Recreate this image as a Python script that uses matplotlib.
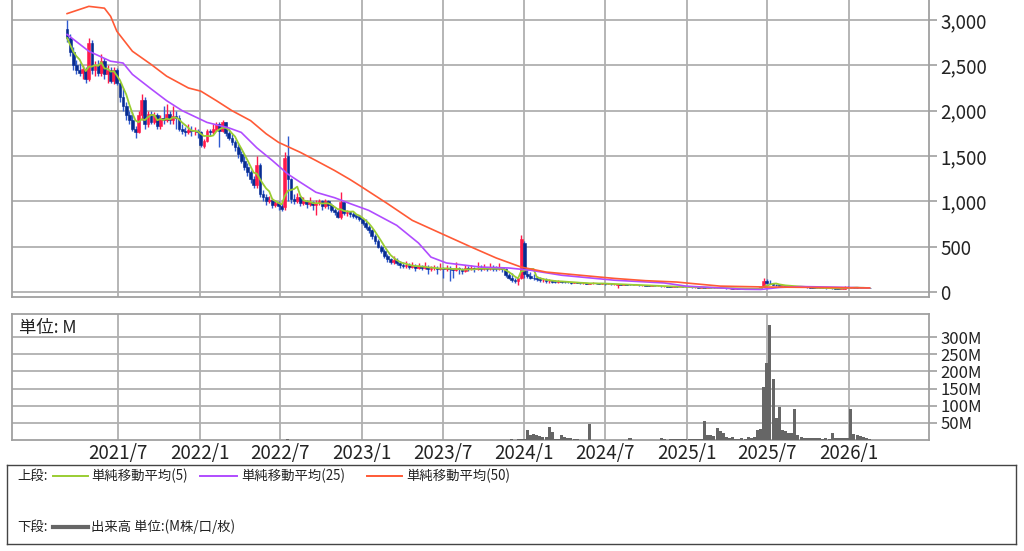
import matplotlib
matplotlib.use("Agg")
from matplotlib import pyplot as plt
import matplotlib.dates as mdates
from matplotlib.ticker import FuncFormatter
import numpy as np
import pandas as pd

plt.rcParams['font.family'] = ['Noto Sans CJK JP', 'DejaVu Sans']

# weekly candles, first week starting 2021-03-08
start_week = '2021-03-08'

opens = [
    2900, 2800, 2650, 2500, 2450, 2420, 2460, 2350, 2750, 2450,
    2500, 2420, 2550, 2400, 2450, 2330, 2450, 2300, 2150, 2050,
    1950, 1900, 1800, 1760, 1950, 2120, 1850, 1960, 1880, 1950,
    1830, 1920, 1900, 1960, 1900, 1940, 1920, 1800, 1780, 1760,
    1790, 1770, 1780, 1760, 1610, 1670, 1780, 1760, 1800, 1850,
    1780, 1870, 1750, 1700, 1650, 1600, 1520, 1450, 1380, 1320,
    1250, 1180, 1400, 1080, 1050, 1000, 1020, 960, 980, 950,
    940, 1500, 1250, 1030, 1000, 1050, 980, 1000, 970, 990,
    960, 980, 1000, 950, 1000, 960, 900, 880, 830, 990,
    870, 880, 860, 840, 830, 800, 760, 720, 680, 620,
    560, 500, 450, 400, 360, 330, 350, 320, 300, 290,
    300, 280, 290, 270, 290, 270, 280, 250, 260, 270,
    255, 260, 250, 270, 250, 240, 260, 250, 230, 260,
    250, 260, 250, 270, 255, 260, 250, 265, 255, 250,
    260, 250, 190, 160, 130, 120, 150, 540, 200, 180,
    160, 150, 140, 130, 135, 120, 125, 115, 110, 120,
    115, 110, 105, 100, 110, 100, 95, 100, 90, 95,
    100, 95, 90, 92, 88, 90, 85, 80, 85, 80,
    82, 80, 78, 75, 78, 72, 75, 70, 68, 70,
    65, 66, 62, 65, 60, 58, 60, 55, 57, 55,
    52, 54, 50, 52, 48, 50, 46, 48, 45, 44,
    46, 42, 44, 40, 42, 38, 40, 36, 38, 35,
    34, 36, 33, 35, 60, 120, 100, 95, 80, 75,
    70, 72, 68, 65, 62, 60, 58, 55, 52, 50,
    48, 46, 45, 44, 42, 40, 42, 40, 38, 36,
    38, 60, 45, 50, 48, 46, 44, 45, 43,
]
highs = [
    3000, 2850, 2700, 2560, 2520, 2500, 2480, 2800, 2780, 2550,
    2560, 2620, 2580, 2500, 2480, 2480, 2470, 2320, 2250, 2100,
    2000, 1980, 1830, 2000, 2180, 2150, 2000, 2000, 1980, 1970,
    1950, 2050, 2070, 2000, 2050, 2000, 1950, 1850, 1820, 1850,
    1830, 1820, 1800, 1780, 1690, 1800, 1800, 1850, 1880, 1870,
    1900, 1880, 1800, 1740, 1680, 1640, 1560, 1500, 1420, 1350,
    1280, 1500, 1420, 1120, 1080, 1060, 1040, 1020, 1000, 980,
    1540, 1720, 1260, 1080, 1090, 1060, 1050, 1020, 1050, 1000,
    1010, 1030, 1010, 1030, 1010, 980, 930, 900, 1100, 1000,
    900, 890, 880, 860, 850, 810, 800, 740, 700, 640,
    580, 520, 470, 420, 380, 400, 370, 340, 330, 340,
    320, 330, 310, 320, 300, 330, 300, 290, 300, 290,
    320, 280, 300, 290, 270, 330, 280, 270, 300, 290,
    300, 280, 330, 300, 310, 280, 320, 300, 290, 320,
    280, 260, 210, 210, 150, 160, 630, 560, 260, 220,
    200, 180, 170, 160, 150, 140, 130, 130, 130, 125,
    120, 115, 110, 115, 112, 105, 105, 102, 100, 105,
    102, 98, 95, 95, 95, 92, 90, 90, 88, 84,
    84, 82, 80, 80, 79, 77, 76, 72, 72, 71,
    68, 67, 67, 66, 62, 62, 61, 59, 58, 56,
    56, 55, 54, 53, 52, 55, 50, 49, 47, 48,
    47, 46, 45, 44, 43, 42, 41, 40, 39, 36,
    38, 37, 38, 70, 150, 140, 130, 100, 90, 85,
    80, 74, 70, 68, 70, 62, 60, 57, 54, 52,
    50, 48, 46, 45, 44, 44, 43, 42, 40, 40,
    70, 62, 55, 52, 50, 48, 47, 46, 44,
]
lows = [
    2760, 2600, 2450, 2400, 2380, 2350, 2300, 2330, 2400, 2380,
    2380, 2380, 2350, 2300, 2300, 2290, 2280, 2100, 2000, 1900,
    1850, 1780, 1700, 1750, 1900, 1800, 1820, 1850, 1850, 1800,
    1800, 1850, 1880, 1850, 1850, 1800, 1780, 1740, 1720, 1740,
    1720, 1730, 1700, 1600, 1590, 1650, 1720, 1740, 1780, 1600,
    1760, 1720, 1680, 1620, 1560, 1480, 1420, 1350, 1280, 1200,
    1150, 1150, 1050, 1000, 960, 980, 930, 940, 900, 890,
    900, 1000, 980, 970, 980, 950, 960, 930, 950, 900,
    850, 960, 900, 930, 920, 880, 850, 820, 810, 850,
    840, 830, 820, 800, 780, 740, 700, 650, 590, 530,
    480, 430, 380, 330, 310, 310, 300, 270, 260, 270,
    250, 260, 230, 250, 240, 250, 200, 230, 240, 200,
    240, 150, 230, 120, 150, 230, 200, 200, 220, 230,
    240, 220, 240, 230, 240, 230, 240, 230, 230, 240,
    220, 170, 140, 110, 100, 80, 140, 150, 160, 140,
    130, 120, 110, 110, 100, 100, 100, 100, 100, 100,
    100, 95, 90, 95, 95, 90, 90, 85, 85, 90,
    90, 85, 85, 80, 85, 80, 80, 45, 78, 76,
    76, 74, 72, 72, 70, 70, 68, 65, 66, 63,
    63, 60, 60, 58, 55, 56, 53, 53, 52, 50,
    50, 48, 48, 46, 46, 44, 44, 43, 42, 42,
    40, 40, 38, 38, 36, 36, 34, 34, 33, 32,
    32, 31, 32, 34, 55, 90, 85, 75, 70, 65,
    66, 64, 62, 60, 58, 55, 52, 50, 48, 46,
    44, 43, 42, 40, 38, 39, 38, 36, 35, 35,
    36, 43, 44, 46, 44, 42, 43, 42, 40,
]
closes = [
    2800, 2650, 2500, 2450, 2420, 2460, 2350, 2750, 2450, 2500,
    2420, 2550, 2400, 2450, 2330, 2450, 2300, 2150, 2050, 1950,
    1900, 1800, 1760, 1950, 2120, 1850, 1960, 1880, 1950, 1830,
    1920, 1900, 1960, 1900, 1940, 1920, 1800, 1780, 1760, 1790,
    1770, 1780, 1760, 1620, 1670, 1780, 1760, 1800, 1850, 1780,
    1870, 1750, 1700, 1650, 1600, 1520, 1450, 1380, 1320, 1250,
    1180, 1400, 1080, 1050, 1000, 1020, 960, 980, 950, 920,
    1480, 1250, 1030, 1000, 1050, 980, 1000, 970, 990, 960,
    980, 1000, 950, 1000, 960, 900, 880, 830, 990, 870,
    880, 860, 840, 830, 800, 760, 720, 680, 620, 560,
    500, 450, 400, 360, 330, 350, 320, 300, 290, 300,
    280, 290, 270, 290, 270, 280, 250, 260, 270, 255,
    260, 250, 270, 250, 240, 260, 250, 230, 260, 250,
    260, 250, 270, 255, 260, 250, 265, 255, 250, 260,
    250, 190, 160, 130, 120, 150, 580, 200, 180, 160,
    150, 140, 130, 135, 120, 125, 115, 110, 120, 115,
    110, 105, 100, 110, 100, 95, 100, 90, 95, 100,
    95, 90, 92, 88, 90, 85, 87, 85, 80, 82,
    80, 78, 75, 78, 72, 75, 70, 68, 70, 65,
    66, 62, 65, 60, 58, 60, 55, 57, 55, 52,
    54, 50, 52, 48, 50, 46, 48, 45, 44, 46,
    42, 44, 40, 42, 38, 40, 36, 38, 35, 34,
    36, 33, 35, 60, 120, 100, 95, 80, 75, 70,
    72, 68, 65, 62, 60, 58, 55, 52, 50, 48,
    46, 45, 44, 42, 40, 42, 40, 38, 36, 38,
    60, 45, 50, 48, 46, 44, 45, 43, 42,
]
# volume in millions
volumes = [
    0.9, 0.7, 0.6, 0.5, 0.6, 0.5, 0.4, 0.9, 0.6, 0.5,
    0.5, 0.6, 0.4, 0.5, 0.4, 0.5, 0.4, 0.6, 0.6, 0.7,
    0.6, 0.7, 0.8, 0.7, 0.9, 0.6, 0.5, 0.4, 0.5, 0.4,
    0.4, 0.5, 0.4, 0.4, 0.5, 0.4, 0.5, 0.4, 0.4, 0.3,
    0.3, 0.3, 0.4, 0.5, 0.6, 0.5, 0.4, 0.4, 0.5, 0.4,
    0.5, 0.4, 0.4, 0.5, 0.5, 0.6, 0.6, 0.7, 0.7, 0.8,
    0.8, 1.0, 0.9, 0.7, 0.7, 0.6, 0.6, 0.5, 0.6, 0.6,
    1.2, 1.5, 0.8, 0.7, 0.6, 0.6, 0.5, 0.5, 0.5, 0.5,
    0.5, 0.5, 0.5, 0.5, 0.5, 0.6, 0.6, 0.6, 0.8, 0.7,
    0.6, 0.6, 0.6, 0.7, 0.7, 0.8, 0.8, 0.9, 1.0, 1.0,
    1.1, 1.1, 1.2, 1.0, 0.9, 0.9, 0.8, 0.8, 0.8, 0.8,
    0.7, 0.7, 0.7, 0.7, 0.7, 0.7, 0.8, 0.7, 0.7, 0.7,
    0.7, 0.8, 0.7, 0.8, 0.7, 0.7, 0.7, 0.6, 0.7, 0.6,
    0.6, 0.6, 0.7, 0.6, 0.6, 0.6, 0.6, 0.6, 0.6, 0.7,
    0.8, 1.0, 1.2, 1.5, 1.2, 1.5, 2.0, 2.5, 29, 15,
    18, 14, 12, 10, 8, 37, 22, 3, 2, 15,
    8, 5, 5, 3, 4, 1, 1, 1, 46, 1,
    1, 0.8, 1, 0.8, 1, 0.6, 0.8, 1, 0.8, 0.6,
    1, 5, 1, 0.8, 0.8, 0.6, 1, 0.8, 1, 1.2,
    1, 6, 1.5, 1, 2, 4, 3, 2, 4, 3,
    2, 2, 3, 4, 3, 55, 15, 15, 12, 34,
    25, 20, 8, 6, 8, 4, 3, 5, 3, 10,
    5, 8, 30, 32, 155, 224, 336, 178, 63, 95,
    30, 25, 20, 20, 89, 15, 8, 6, 7, 5,
    6, 5, 6, 4, 5, 4, 20, 7, 6, 5,
    7, 6, 89, 18, 15, 12, 8, 5, 3,
]

# moving averages (week index -> value)
ma25_weeks = [0, 7, 14, 18, 21, 27, 32, 37, 45, 52, 56, 61, 66, 71, 75, 80, 86, 91, 97,
              106, 113, 117, 122, 133, 142, 149, 159, 176, 192, 199, 210, 218, 223, 229,
              236, 245, 258]
ma25_vals = [2840, 2655, 2545, 2525, 2400, 2240, 2110, 2000, 1870, 1810, 1760, 1590, 1450,
             1300, 1210, 1100, 1040, 975, 900, 735, 540, 385, 320, 275, 265, 240, 185, 130,
             100, 65, 45, 30, 28, 50, 60, 55, 45]
ma50_weeks = [0, 7, 12, 14, 16, 21, 27, 32, 39, 43, 48, 53, 59, 64, 68, 75, 80, 86, 91, 94,
              103, 111, 120, 130, 138, 146, 154, 165, 176, 186, 196, 199, 210, 225, 242, 258]
ma50_vals = [3070, 3150, 3130, 3040, 2875, 2655, 2510, 2380, 2250, 2215, 2110, 2000, 1890,
             1745, 1650, 1540, 1450, 1340, 1240, 1175, 975, 790, 650, 495, 375, 275, 220,
             185, 150, 125, 110, 100, 65, 55, 50, 45]

xtick_dates = ['2021-07-01', '2022-01-01', '2022-07-01', '2023-01-01', '2023-07-01',
               '2024-01-01', '2024-07-01', '2025-01-01', '2025-07-01', '2026-01-01']
xtick_labels = ['2021/7', '2022/1', '2022/7', '2023/1', '2023/7',
                '2024/1', '2024/7', '2025/1', '2025/7', '2026/1']
price_ticks = [0, 500, 1000, 1500, 2000, 2500, 3000]
vol_ticks = [50, 100, 150, 200, 250, 300]

UP = '#ff1a4b'
DOWN = '#072c92'
DOWN_WICK = '#2f5bd0'
MA5_C = '#9acd32'
MA25_C = '#b04cff'
MA50_C = '#ff5a36'
GRID = '#b0b0b0'
SPINE = '#a0a0a0'
TXT = '#222222'

assert len(opens) == len(highs) == len(lows) == len(closes) == len(volumes)

dates = pd.date_range(start_week, periods=len(closes), freq='7D')
x = mdates.date2num(dates)
o = np.array(opens, float)
h = np.array(highs, float)
l = np.array(lows, float)
c = np.array(closes, float)
ma5 = pd.Series(c).rolling(5, min_periods=1).mean()

fig = plt.figure(figsize=(10.24, 5.51), dpi=100)
ax = fig.add_axes([12/1024, 1-297/551, 917/1024, 297/551])
axv = fig.add_axes([12/1024, 1-440/551, 917/1024, 126/551])
lax = fig.add_axes([7/1024, 1-544/551, 1009/1024, 79/551])

xmin = mdates.date2num(pd.Timestamp('2020-11-04'))
xmax = mdates.date2num(pd.Timestamp('2026-06-30'))
xt = mdates.date2num(pd.to_datetime(xtick_dates))

for a in (ax, axv):
    a.set_xlim(xmin, xmax)
    a.set_xticks(xt)
    a.grid(True, color=GRID, lw=1.3)
    a.set_axisbelow(True)
    a.yaxis.tick_right()
    a.tick_params(axis='y', direction='out', length=6, width=1.2, color=SPINE,
                  labelsize=13.5, pad=2, labelcolor=TXT)
    a.tick_params(axis='x', length=0)
    for s in a.spines.values():
        s.set_color(SPINE)
        s.set_linewidth(1.3)

# price panel
ax.set_ylim(-55, 3220)
ax.set_yticks(price_ticks)
ax.yaxis.set_major_formatter(FuncFormatter(lambda v, p: f'{int(v):,}'))
ax.set_xticklabels([])
ax.spines['top'].set_visible(False)

up = c >= o
body_cols = np.where(up, UP, DOWN)
wick_cols = np.where(up, UP, DOWN_WICK)
ax.vlines(x, l, h, colors=wick_cols, lw=1.0, zorder=3)
bottoms = np.minimum(o, c)
heights = np.maximum(np.abs(c - o), 4)
ax.bar(x, heights, bottom=bottoms, width=6.3, color=body_cols, edgecolor=body_cols,
       linewidth=0.4, zorder=3)

ax.plot(x, ma5, color=MA5_C, lw=1.3, zorder=4)
ax.plot(x[ma25_weeks], ma25_vals, color=MA25_C, lw=1.2, zorder=4)
ax.plot(x[ma50_weeks], ma50_vals, color=MA50_C, lw=1.2, zorder=4)

# volume panel
axv.set_ylim(0, 367)
axv.set_yticks(vol_ticks)
axv.set_yticklabels([f'{v}M' for v in vol_ticks])
axv.tick_params(axis='y', labelsize=12)
axv.set_xticklabels(xtick_labels)
axv.tick_params(axis='x', labelsize=13.5, pad=2, labelcolor=TXT)
axv.bar(x, volumes, width=6.8, color='#666666', zorder=3)
axv.text(0.008, 0.96, '単位: M', transform=axv.transAxes, ha='left', va='top',
         fontsize=12.5, color=TXT)

# legend box
lax.set_xlim(7, 1016)
lax.set_ylim(544, 465)
lax.set_xticks([])
lax.set_yticks([])
for s in lax.spines.values():
    s.set_color('#444444')
    s.set_linewidth(1.0)
fs = 9.6
lax.text(17, 476, '上段:', va='center', fontsize=fs, color=TXT)
lax.plot([53, 88], [476, 476], color=MA5_C, lw=1.4)
lax.text(91, 476, '単純移動平均(5)', va='center', fontsize=fs, color=TXT)
lax.plot([200, 237], [476, 476], color=MA25_C, lw=1.4)
lax.text(241, 476, '単純移動平均(25)', va='center', fontsize=fs, color=TXT)
lax.plot([367, 402], [476, 476], color=MA50_C, lw=1.4)
lax.text(406, 476, '単純移動平均(50)', va='center', fontsize=fs, color=TXT)
lax.text(17, 527, '下段:', va='center', fontsize=fs, color=TXT)
lax.plot([53, 88], [527, 527], color='#666666', lw=3)
lax.text(91, 527, '出来高 単位:(M株/口/枚)', va='center', fontsize=fs, color=TXT)

fig.savefig('out.png', dpi=100)
